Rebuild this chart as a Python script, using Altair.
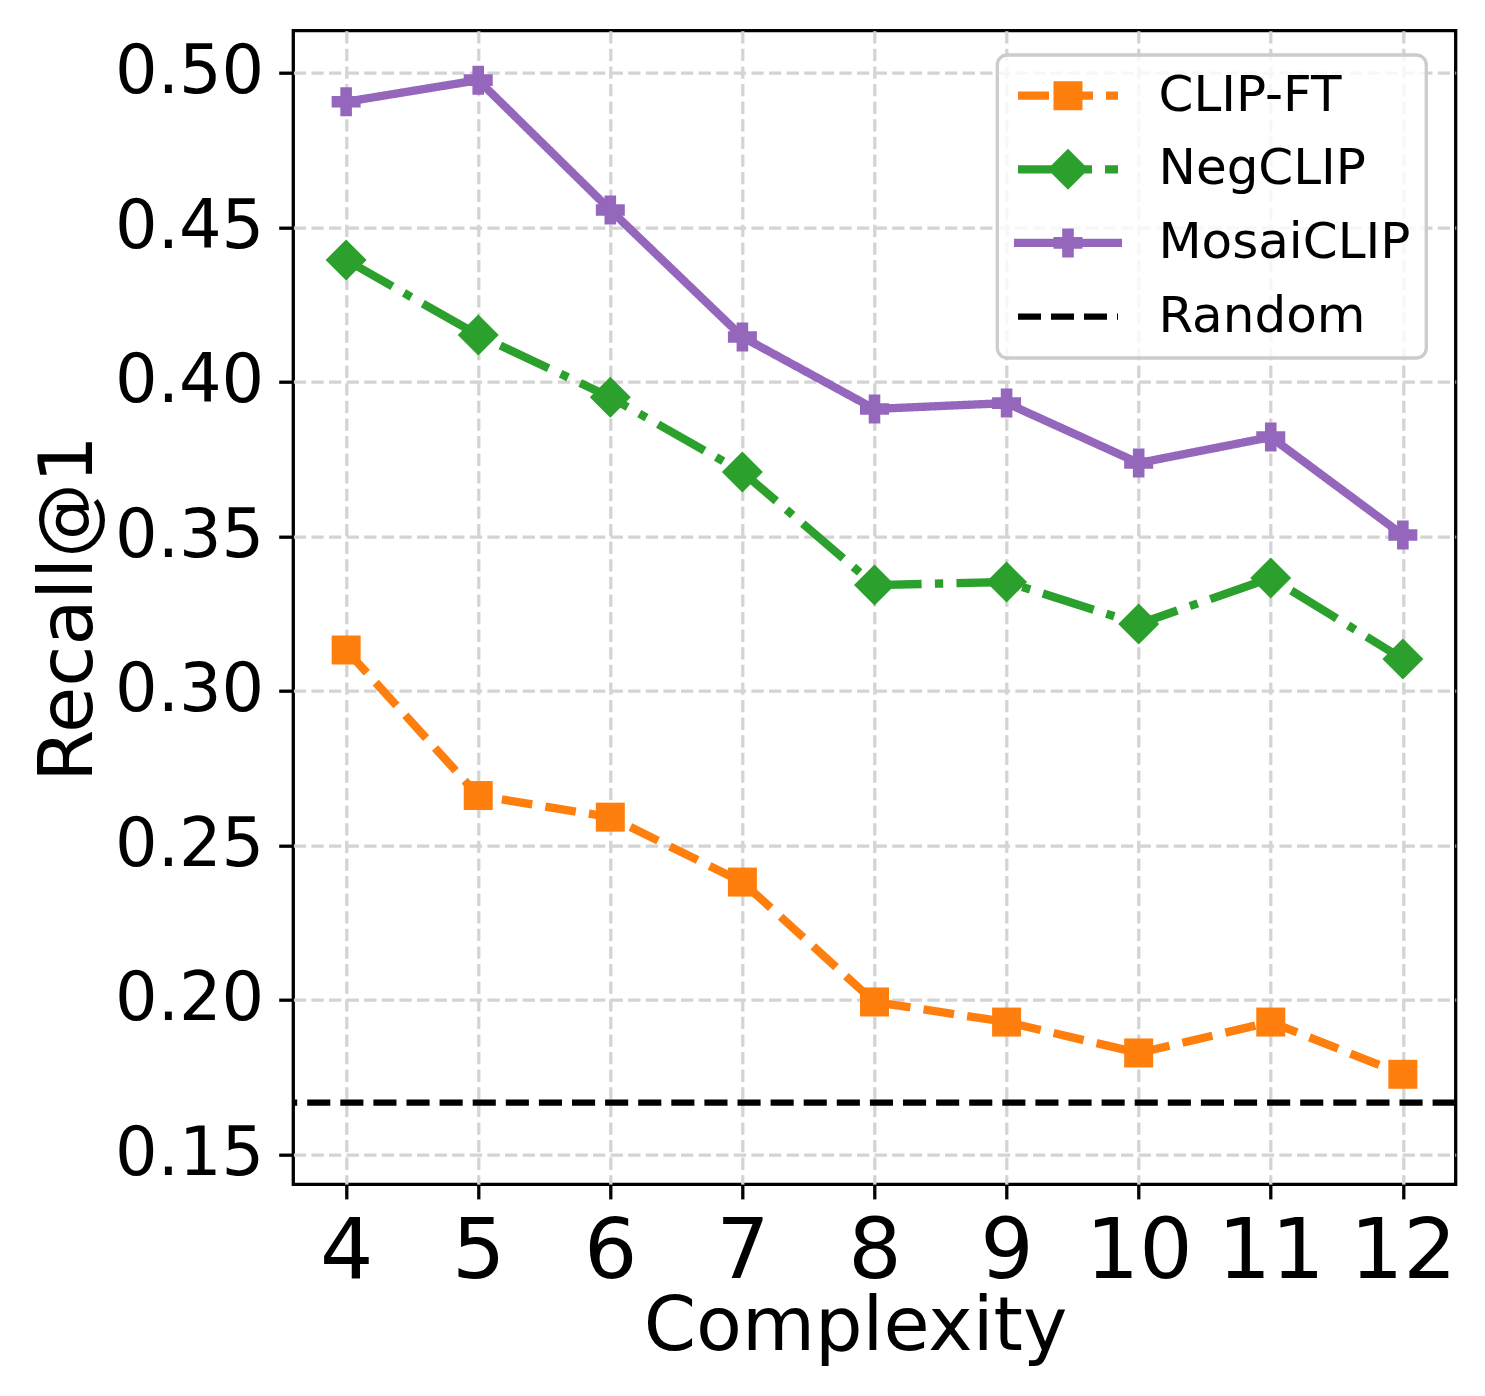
import altair as alt
import pandas as pd

# ---------------- data ----------------
complexity = [4, 5, 6, 7, 8, 9, 10, 11, 12]
clip_ft = [0.3132, 0.2661, 0.2591, 0.2381, 0.1993, 0.1928, 0.1828, 0.1928, 0.1759]
negclip = [0.4394, 0.4151, 0.3950, 0.3708, 0.3342, 0.3352, 0.3216, 0.3365, 0.3103]
mosaiclip = [0.4906, 0.4976, 0.4556, 0.4145, 0.3912, 0.3931, 0.3737, 0.3821, 0.3504]
random_level = 0.1667

series_names = ["CLIP-FT", "NegCLIP", "MosaiCLIP", "Random"]
series_colors = ["#ff7f0e", "#2ca02c", "#9467bd", "#000000"]
y_ticks = [0.15, 0.20, 0.25, 0.30, 0.35, 0.40, 0.45, 0.50]

rows = []
for name, vals in zip(series_names[:3], [clip_ft, negclip, mosaiclip]):
    for c, v in zip(complexity, vals):
        rows.append({"series": name, "complexity": c, "recall": v})
df = pd.DataFrame(rows)
random_df = pd.DataFrame({"recall": [random_level]})
legend_df = pd.DataFrame({"series": series_names})

# ---------------- styles ----------------
FONT = "DejaVu Sans"
LW = 8.33
K = 2.0  # legend glyph path scale (1 path unit = 25px with symbol size 2500)


def f(v):
    return f"{v * K:.4f}"


def rect(x1, x2, h):
    return f"M{f(x1)} {f(-h)}H{f(x2)}V{f(h)}H{f(x1)}Z"


def box(x1, x2, y1, y2):
    return f"M{f(x1)} {f(y1)}H{f(x2)}V{f(y2)}H{f(x1)}Z"


t = 0.083
leg_clip = rect(-1, -0.38, t) + rect(-0.12, 0.5, t) + box(-0.29, 0.29, -0.29, 0.29) + rect(0.76, 1, t)
leg_neg = (rect(-1, 0.06, t)
           + f"M0 {f(-0.41)}L{f(0.41)} 0L0 {f(0.41)}L{f(-0.41)} 0Z"
           + rect(0.32, 0.48, t) + rect(0.74, 1, t))
leg_mos = (rect(-1.08, 1.08, t) + box(-0.29, 0.29, -0.116, 0.116)
           + box(-0.116, 0.116, -0.29, 0.29))
tr = 0.0625
leg_rand = rect(-1, -0.54, tr) + rect(-0.34, 0.12, tr) + rect(0.32, 0.78, tr) + rect(0.98, 1, tr)
legend_paths = [leg_clip, leg_neg, leg_mos, leg_rand]

x_scale = alt.Scale(domain=[3.6, 12.4], nice=False, zero=False)
y_scale = alt.Scale(domain=[0.1403, 0.5136], nice=False, zero=False)
color_scale = alt.Scale(domain=series_names, range=series_colors)

common_axis = dict(
    domain=False, grid=True, gridColor="#d4d4d4", gridWidth=3.3, gridDash=[12.3, 5.3],
    tickSize=14.6, tickWidth=3.3, tickColor="black", labelColor="black", labelFont=FONT,
    labelOverlap=False, labelFlush=False, titleFont=FONT, titleFontSize=75,
    titleFontWeight="normal", titleColor="black", titleAlign="center",
    titleBaseline="alphabetic",
)
x_axis = alt.Axis(values=complexity, format="d", title="Complexity", labelFontSize=84,
                  labelPadding=13, titleX=561.7, titleY=165.7, **common_axis)
y_axis = alt.Axis(values=y_ticks, format=".2f", title="Recall@1", labelFontSize=67,
                  labelPadding=15, titleAngle=270, titleX=-201.6, titleY=577.3, **common_axis)

base = alt.Chart(df).encode(
    x=alt.X("complexity:Q", scale=x_scale, axis=x_axis),
    y=alt.Y("recall:Q", scale=y_scale, axis=y_axis),
)

series_styles = [
    ("CLIP-FT", "#ff7f0e", [30.8, 13.3], "square", 841),
    ("NegCLIP", "#2ca02c", [53.3, 13.3, 8.3, 13.3], "diamond", 1681),
    ("MosaiCLIP", "#9467bd", [1, 0], "cross", 841),
]
layers = []
for name, col, dash, shp, sz in series_styles:
    sub = base.transform_filter(alt.datum.series == name)
    layers.append(sub.mark_line(strokeWidth=LW, strokeJoin="round", strokeCap="butt",
                                color=col, strokeDash=dash))
    layers.append(sub.mark_point(shape=shp, size=sz, filled=True, opacity=1,
                                 strokeWidth=0, color=col))

rule = alt.Chart(random_df).mark_rule(color="black", strokeWidth=6.25, strokeDash=[23.1, 10]).encode(
    y=alt.Y("recall:Q", scale=y_scale, axis=y_axis)
)


def make_legend():
    return alt.Legend(
        title=None, orient="none", legendX=704, legendY=24.3, padding=15.7,
        symbolSize=2500, symbolStrokeWidth=0, symbolOffset=30, labelOffset=65.5,
        labelFontSize=50, labelFont=FONT, labelColor="black", rowPadding=23.6,
        fillColor="rgba(255,255,255,0.8)", strokeColor="#cccccc", cornerRadius=10,
        symbolOpacity=1, labelLimit=0,
    )


legend_layer = alt.Chart(legend_df).transform_filter("false").mark_point(
    filled=True, opacity=1, strokeWidth=0, size=2500
).encode(
    color=alt.Color("series:N", scale=color_scale, legend=make_legend()),
    shape=alt.Shape("series:N", scale=alt.Scale(domain=series_names, range=legend_paths),
                    legend=make_legend()),
)

chart = alt.layer(*layers, rule, legend_layer).properties(
    width=1162.4,
    height=1153.6,
    autosize=alt.AutoSizeParams(type="none"),
    padding={"left": 285.3, "top": 22.7, "right": 21, "bottom": 200},
    background="white",
).configure(font=FONT).configure_view(stroke="black", strokeWidth=3.3).configure_legend(strokeWidth=3.3)

chart.save("out.html", embed_options={"renderer": "svg", "actions": False})
